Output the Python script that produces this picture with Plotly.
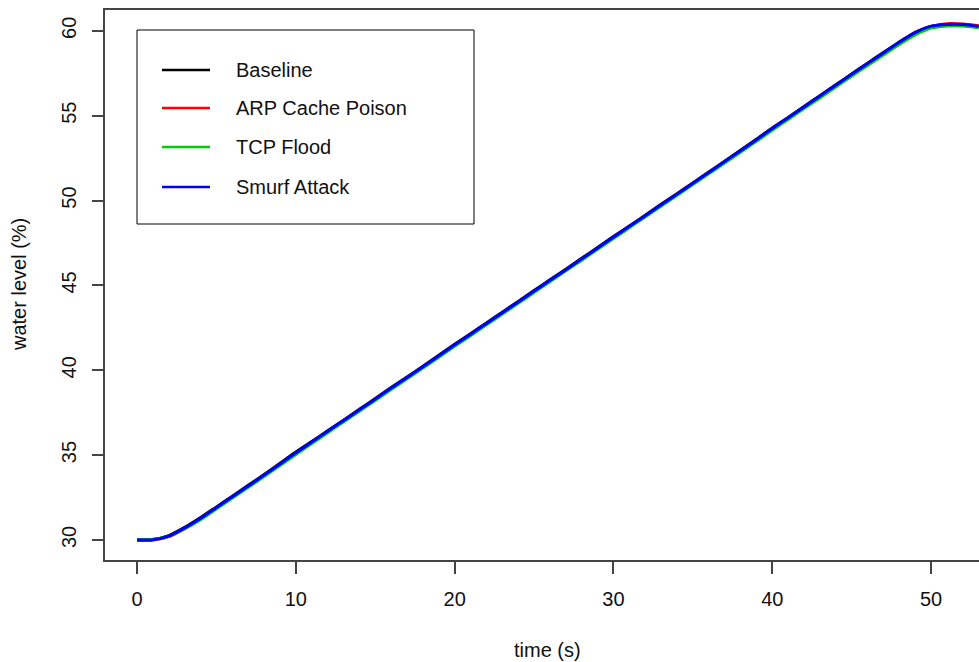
import plotly.graph_objects as go

# Water level over time for the baseline run and three attack scenarios
time_s = list(range(0, 54))

baseline = [
    30.00, 30.03, 30.26, 30.74, 31.32, 31.95, 32.58, 33.22, 33.86, 34.52,
    35.18, 35.80, 36.44, 37.06, 37.70, 38.33, 38.98, 39.60, 40.24, 40.88,
    41.53, 42.15, 42.79, 43.42, 44.06, 44.70, 45.33, 45.96, 46.60, 47.23,
    47.88, 48.50, 49.13, 49.78, 50.41, 51.04, 51.68, 52.32, 52.96, 53.62,
    54.28, 54.90, 55.55, 56.18, 56.82, 57.46, 58.10, 58.72, 59.35, 59.92,
    60.26, 60.36, 60.37, 60.28,
]
arp_cache_poison = [
    29.98, 30.00, 30.20, 30.67, 31.25, 31.90, 32.52, 33.15, 33.80, 34.45,
    35.10, 35.75, 36.38, 37.02, 37.64, 38.28, 38.92, 39.55, 40.18, 40.82,
    41.46, 42.10, 42.72, 43.36, 44.00, 44.63, 45.27, 45.90, 46.54, 47.18,
    47.82, 48.45, 49.08, 49.72, 50.36, 50.99, 51.63, 52.27, 52.91, 53.56,
    54.22, 54.86, 55.49, 56.13, 56.77, 57.41, 58.04, 58.68, 59.30, 59.88,
    60.24, 60.42, 60.40, 60.30,
]
tcp_flood = [
    30.02, 30.04, 30.21, 30.66, 31.20, 31.84, 32.47, 33.10, 33.74, 34.39,
    35.04, 35.68, 36.32, 36.95, 37.59, 38.22, 38.86, 39.50, 40.13, 40.77,
    41.41, 42.04, 42.68, 43.31, 43.95, 44.58, 45.22, 45.86, 46.49, 47.13,
    47.76, 48.40, 49.03, 49.67, 50.30, 50.94, 51.58, 52.21, 52.85, 53.49,
    54.14, 54.78, 55.42, 56.05, 56.69, 57.33, 57.96, 58.58, 59.20, 59.76,
    60.16, 60.28, 60.29, 60.18,
]
smurf_attack = [
    30.00, 30.02, 30.23, 30.71, 31.28, 31.92, 32.55, 33.18, 33.83, 34.48,
    35.14, 35.77, 36.41, 37.04, 37.67, 38.30, 38.95, 39.58, 40.21, 40.85,
    41.50, 42.13, 42.76, 43.39, 44.03, 44.67, 45.30, 45.93, 46.57, 47.20,
    47.85, 48.48, 49.11, 49.75, 50.38, 51.02, 51.66, 52.30, 52.94, 53.59,
    54.25, 54.88, 55.52, 56.16, 56.80, 57.44, 58.07, 58.70, 59.33, 59.90,
    60.28, 60.38, 60.37, 60.26,
]

series_names = ["Baseline", "ARP Cache Poison", "TCP Flood", "Smurf Attack"]
series_values = [baseline, arp_cache_poison, tcp_flood, smurf_attack]
series_colors = ["#000000", "#FF0000", "#00CD00", "#0000FF"]

x_ticks = [0, 10, 20, 30, 40, 50]
y_ticks = [30, 35, 40, 45, 50, 55, 60]

FONT = "Liberation Sans, Arial, sans-serif"
W, H = 979, 662
ML, MR, MT, MB = 105, 0, 10, 102
PW, PH = W - ML - MR, H - MT - MB


def px_x(px):
    return (px - ML) / PW


def px_y(py):
    return (H - MB - py) / PH


fig = go.Figure()
for name, vals, col in zip(series_names, series_values, series_colors):
    fig.add_trace(go.Scatter(
        x=time_s, y=vals, mode="lines", name=name,
        line=dict(color=col, width=3, shape="spline", smoothing=0.6),
        showlegend=False,
    ))

# boxed legend in the upper-left corner
shapes = [dict(type="rect", xref="paper", yref="paper",
               x0=px_x(137), x1=px_x(474), y0=px_y(224), y1=px_y(30),
               line=dict(color="#000000", width=1), fillcolor="white")]
annotations = []
row_y = [70, 108, 147, 187]
for name, col, ry in zip(series_names, series_colors, row_y):
    shapes.append(dict(type="line", xref="paper", yref="paper",
                       x0=px_x(162), x1=px_x(210), y0=px_y(ry), y1=px_y(ry),
                       line=dict(color=col, width=2.6)))
    annotations.append(dict(text=name, xref="paper", yref="paper",
                            x=px_x(234), y=px_y(ry), xanchor="left", yanchor="middle",
                            showarrow=False, font=dict(size=20, color="#111111", family=FONT)))

# axis titles
annotations.append(dict(text="time (s)", xref="paper", yref="paper",
                        x=px_x(547), y=px_y(650), xanchor="center", yanchor="middle",
                        showarrow=False, font=dict(size=20, color="#111111", family=FONT)))
annotations.append(dict(text="water level (%)", xref="paper", yref="paper",
                        x=px_x(19), y=px_y(285), xanchor="center", yanchor="middle",
                        textangle=-90, showarrow=False,
                        font=dict(size=20, color="#111111", family=FONT)))

fig.update_layout(
    width=W, height=H,
    margin=dict(l=ML, r=MR, t=MT, b=MB, pad=0),
    paper_bgcolor="white", plot_bgcolor="white",
    font=dict(family=FONT, size=20, color="#111111"),
    shapes=shapes, annotations=annotations,
    xaxis=dict(
        range=[-2.02, 53.02], tickvals=x_ticks, ticktext=[str(v) for v in x_ticks],
        showgrid=False, zeroline=False, showline=True, mirror=True,
        linecolor="#444444", linewidth=1.5,
        ticks="outside", ticklen=12, tickwidth=1.5, tickcolor="#444444",
        ticklabelstandoff=8,
    ),
    yaxis=dict(
        range=[28.82, 61.23], tickvals=y_ticks, ticktext=[str(v) for v in y_ticks],
        showgrid=False, zeroline=False, showline=True, mirror=False,
        linecolor="#444444", linewidth=1.5,
        ticks="outside", ticklen=11, tickwidth=1.5, tickcolor="#444444",
        tickangle=-90, ticklabelstandoff=8,
    ),
)

fig.write_html("out.html")
